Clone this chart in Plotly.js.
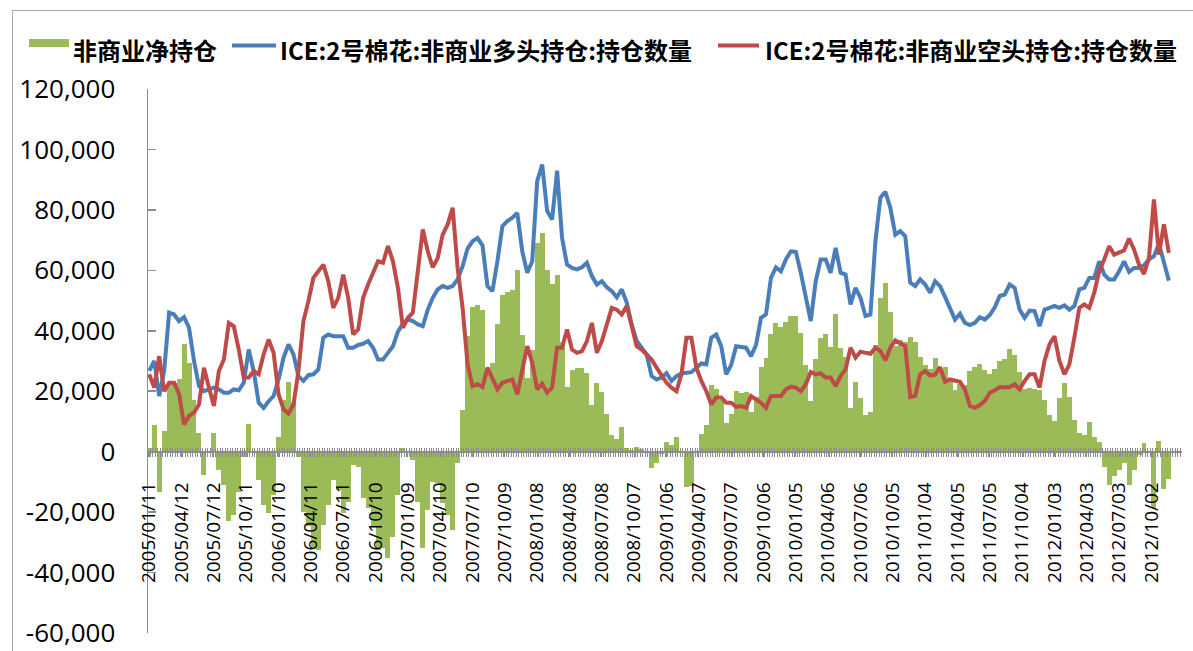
<!DOCTYPE html>
<html>
<head>
<meta charset="utf-8">
<script src="https://cdn.plot.ly/plotly-3.0.1.min.js"></script>
<style>
html,body{margin:0;padding:0;background:#fff;overflow:hidden;}
#frame{position:absolute;left:12px;top:10px;width:1300px;height:800px;border:1px solid #a6a6a6;box-sizing:border-box;}
#chart{position:absolute;left:0;top:0;width:1193px;height:651px;}
</style>
</head>
<body>
<div id="frame"></div>
<div id="chart"></div>
<script>
// Bi-weekly readings (every 2nd weekly report) starting 2005-01-11
const startDate = '2005-01-11';
const stepDays = 14;

// 非商业净持仓 (bars)
const netPos = [
  1100, 8800, -13200, 6700, 23200, 22600, 24200, 35500, 29200, 17100,
  6100, -7800, -600, 6100, -6100, -11000, -23100, -20900, -13500, -1700,
  9300, 0, -9400, -17700, -20400, -14300, 4900, 17100, 22900, 16600,
  -1700, -19800, -24500, -31900, -32500, -24200, -17600, -9400, -12700, -20400,
  -16500, -4400, -5100, -15200, -18700, -24800, -32500, -32000, -35300, -28100,
  -14500, 1300, -500, -2800, -16500, -32000, -19300, -10100, -10400, -17000,
  -21000, -25900, -3800, 13800, 38300, 47900, 48400, 46900, 27000, 29200,
  42400, 51800, 52900, 53500, 60000, 38500, 24300, 33600, 68900, 72500,
  60100, 55600, 58600, 36300, 21500, 27000, 27600, 27700, 25900, 15500,
  22600, 19800, 12300, 5500, 4100, 8300, 1100, 600, 1700, 800,
  0, -5500, -3900, -800, 3200, 2200, 5000, 300, -11600, -11400,
  0, 5800, 8900, 22100, 20900, 17000, 9400, 12500, 20100, 19500,
  19900, 13200, 18000, 28100, 30900, 39100, 42600, 41300, 43000, 44800,
  44900, 39200, 28600, 16800, 30800, 37700, 39100, 34700, 45700, 34200,
  31400, 14300, 23100, 17800, 12200, 13000, 35200, 50700, 55800, 46300,
  35000, 37000, 36400, 37800, 36300, 31400, 28600, 27400, 30900, 26800,
  28100, 23900, 20300, 22500, 22000, 26800, 28100, 29100, 26900, 25700,
  27500, 30100, 30800, 33900, 31900, 26400, 20900, 21100, 20900, 20300,
  17000, 12100, 10000, 17600, 22800, 18100, 10500, 6100, 5500, 9900,
  4900, 3300, -5000, -11000, -8200, -6100, -3600, -11000, -6100, -1100,
  2900, -500, -18800, 3600, -12200, -9200
];

// ICE:2号棉花:非商业多头持仓:持仓数量 (blue)
const longPos = [
  26700, 30000, 18400, 26700, 46000, 45400, 43200, 44500, 41000, 30000,
  21700, 20000, 20600, 21200, 20600, 19500, 19500, 20600, 20300, 22800,
  33800, 26700, 16200, 14500, 16700, 18400, 23900, 31100, 35500, 32200,
  25000, 23400, 25300, 25600, 27200, 37700, 38800, 38200, 38200, 38200,
  34400, 34400, 35300, 35700, 36600, 34400, 30500, 30500, 32700, 34900,
  39700, 42300, 43800, 43200, 42100, 41500, 47000, 50900, 53700, 54800,
  54200, 54800, 57000, 61400, 67200, 69600, 70700, 68300, 54800, 53100,
  63000, 74600, 76300, 77400, 79000, 66300, 59200, 63000, 89500, 95000,
  79600, 76800, 93000, 70700, 61900, 60800, 60300, 61000, 62500, 58100,
  55300, 56400, 54400, 53100, 51100, 53700, 49300, 42100, 36600, 34600,
  32200, 25000, 23900, 24500, 26000, 23400, 25000, 25900, 26100, 26300,
  27800, 29200, 28900, 37700, 38800, 34900, 25600, 28700, 34900, 34600,
  34400, 31600, 35300, 44300, 45400, 57500, 61000, 59700, 63600, 66300,
  66100, 59200, 50900, 43200, 56400, 63600, 63600, 59200, 67400, 59200,
  58600, 48700, 54200, 50900, 44900, 45400, 69600, 84000, 86000, 80700,
  71800, 73000, 71300, 55900, 54800, 57000, 55300, 52600, 56400, 54800,
  51200, 47800, 43700, 45600, 42600, 41900, 42600, 44500, 43700, 45200,
  47800, 51500, 52000, 55300, 54200, 47000, 44300, 46700, 46500, 41500,
  47000, 47600, 48200, 47600, 48400, 47000, 48200, 53700, 54200, 57500,
  57500, 63000, 58600, 57000, 57000, 59700, 63000, 59500, 60800, 60800,
  61700, 63600, 64700, 68800, 63000, 56600
];

// ICE:2号棉花:非商业空头持仓:持仓数量 (red)
const shortPos = [
  25600, 21200, 31600, 20000, 22800, 22800, 19000, 9000, 11800, 12900,
  15600, 27800, 21200, 15100, 26700, 30500, 42600, 41500, 33800, 24500,
  24500, 26700, 25600, 32200, 37100, 32700, 19000, 14000, 12600, 15600,
  26700, 43200, 49800, 57500, 59700, 61900, 56400, 47600, 50900, 58600,
  50900, 38800, 40400, 50900, 55300, 59200, 63000, 62500, 68000, 63000,
  54200, 41000, 44300, 46000, 58600, 73500, 66300, 61000, 64100, 71800,
  75200, 80700, 60800, 47600, 28900, 21700, 22300, 21400, 27800, 23900,
  20600, 22800, 23400, 23900, 19000, 27800, 34900, 29400, 20600, 22500,
  19500, 21200, 34400, 34400, 40400, 33800, 32700, 33300, 36600, 42600,
  32700, 36600, 42100, 47600, 47000, 45400, 48200, 41500, 34900, 33800,
  32200, 30500, 27800, 25300, 22800, 21200, 20000, 25600, 37700, 37700,
  27800, 23400, 20000, 15600, 17900, 17900, 16200, 16200, 14800, 15100,
  14500, 18400, 17300, 16200, 14500, 18400, 18400, 18400, 20600, 21500,
  21200, 20000, 22300, 26400, 25600, 25900, 24500, 24500, 21700, 25000,
  27200, 34400, 31100, 33100, 32700, 32400, 34400, 33300, 30200, 34400,
  36800, 36000, 34900, 18100, 18500, 25600, 26700, 25200, 25500, 28000,
  23100, 23900, 23400, 23100, 20600, 15100, 14500, 15400, 16800, 19500,
  20300, 21400, 21200, 21400, 22300, 20600, 23400, 25600, 25600, 21200,
  30000, 35500, 38200, 30000, 25600, 28900, 37700, 47600, 48700, 47600,
  52600, 59700, 63600, 68000, 65200, 65800, 66600, 70500, 66900, 61900,
  58800, 64100, 83500, 65200, 75200, 65800
];

// x-axis tick labels (quarterly)
const xTickLabels = [
  '2005/01/11','2005/04/12','2005/07/12','2005/10/11','2006/01/10','2006/04/11',
  '2006/07/11','2006/10/10','2007/01/09','2007/04/10','2007/07/10','2007/10/09',
  '2008/01/08','2008/04/08','2008/07/08','2008/10/07','2009/01/06','2009/04/07',
  '2009/07/07','2009/10/06','2010/01/05','2010/04/06','2010/07/06','2010/10/05',
  '2011/01/04','2011/04/05','2011/07/05','2011/10/04','2012/01/03','2012/04/03',
  '2012/07/03','2012/10/02'
];
const yTickVals = [-60000, -40000, -20000, 0, 20000, 40000, 60000, 80000, 100000, 120000];
const yTickText = ['-60,000','-40,000','-20,000','0','20,000','40,000','60,000','80,000','100,000','120,000'];

const seriesNames = ['非商业净持仓', 'ICE:2号棉花:非商业多头持仓:持仓数量', 'ICE:2号棉花:非商业空头持仓:持仓数量'];
const colors = {net: '#9BBB59', long: '#4A7EBB', short: '#BE4B48', axis: '#8c8c8c'};

// report dates
const t0 = Date.parse(startDate + 'T00:00:00Z');
const dates = netPos.map((_, i) => new Date(t0 + i * stepDays * 86400000).toISOString().slice(0, 10));
const xTickVals = xTickLabels.map(s => s.replace(/\//g, '-'));

const W = 1193, H = 651;
const M = {l: 148, r: 11, t: 89, b: 18};
const px = x => (x - M.l) / (W - M.l - M.r);
const py = y => (H - M.b - y) / (H - M.t - M.b);
const WEEK = 7 * 86400000;
const xRange = ['2005-01-07 12:00', '2012-12-27'];

const traces = [
  {type: 'bar', x: dates, y: netPos, name: seriesNames[0], marker: {color: colors.net, line: {width: 0}},
   width: stepDays * 86400000, showlegend: false, hoverinfo: 'skip'},
  {type: 'scatter', mode: 'lines', x: dates, y: longPos, name: seriesNames[1],
   line: {color: colors.long, width: 4}, showlegend: false, hoverinfo: 'skip'},
  {type: 'scatter', mode: 'lines', x: dates, y: shortPos, name: seriesNames[2],
   line: {color: colors.short, width: 4}, showlegend: false, hoverinfo: 'skip'},
  {type: 'scatter', mode: 'lines', x: [null], y: [null], xaxis: 'x2', yaxis: 'y', showlegend: false, hoverinfo: 'skip'}
];

const legFont = {family: 'Noto Sans CJK SC, sans-serif', size: 24, color: '#000', weight: 'bold'};

const layout = {
  width: W, height: H,
  margin: M,
  paper_bgcolor: 'rgba(0,0,0,0)',
  plot_bgcolor: 'rgba(0,0,0,0)',
  showlegend: false,
  hovermode: false,
  bargap: 0,
  xaxis: {
    type: 'date', range: xRange, anchor: 'free', position: 1/3,
    showline: true, linecolor: colors.axis, linewidth: 2,
    showgrid: false, zeroline: false,
    tickmode: 'array', tickvals: xTickVals, ticktext: xTickLabels,
    ticks: 'outside', ticklen: 4, tickcolor: colors.axis, tickwidth: 1,
    tickangle: -90, ticklabelstandoff: 18,
    tickfont: {family: 'Open Sans, sans-serif', size: 19, color: '#000'},
    minor: {ticks: 'outside', ticklen: 4, tickcolor: colors.axis, tickwidth: 1,
            tickmode: 'linear', tick0: '2005-01-07 12:00', dtick: WEEK, showgrid: false}
  },
  xaxis2: {
    type: 'date', range: xRange, overlaying: 'x', anchor: 'free', position: 1/3,
    showline: false, showgrid: false, zeroline: false, showticklabels: false,
    tickmode: 'linear', tick0: '2005-01-07 12:00', dtick: WEEK,
    ticks: 'inside', ticklen: 4, tickcolor: colors.axis, tickwidth: 1
  },
  yaxis: {
    range: [-60000, 120000],
    tickmode: 'array', tickvals: yTickVals, ticktext: yTickText,
    ticks: 'inside', ticklen: 8, tickcolor: colors.axis, tickwidth: 1.5,
    showline: true, linecolor: colors.axis, linewidth: 1.5,
    showgrid: false, zeroline: false,
    ticklabelstandoff: 26,
    tickfont: {family: 'Open Sans, sans-serif', size: 26, color: '#000'}
  },
  shapes: [
    {type: 'rect', xref: 'paper', yref: 'paper', x0: px(29), x1: px(69), y0: py(47), y1: py(39),
     fillcolor: colors.net, line: {width: 0}},
    {type: 'line', xref: 'paper', yref: 'paper', x0: px(232), x1: px(276), y0: py(45.5), y1: py(45.5),
     line: {color: colors.long, width: 4}},
    {type: 'line', xref: 'paper', yref: 'paper', x0: px(718), x1: px(759), y0: py(45.5), y1: py(45.5),
     line: {color: colors.short, width: 4}}
  ],
  annotations: [
    {xref: 'paper', yref: 'paper', x: px(71), y: py(49), xanchor: 'left', yanchor: 'middle',
     text: seriesNames[0], showarrow: false, font: legFont},
    {xref: 'paper', yref: 'paper', x: px(278), y: py(49), xanchor: 'left', yanchor: 'middle',
     text: seriesNames[1], showarrow: false, font: legFont},
    {xref: 'paper', yref: 'paper', x: px(763), y: py(49), xanchor: 'left', yanchor: 'middle',
     text: seriesNames[2], showarrow: false, font: legFont}
  ]
};

Plotly.newPlot('chart', traces, layout, {displayModeBar: false, staticPlot: true});
</script>
</body>
</html>
